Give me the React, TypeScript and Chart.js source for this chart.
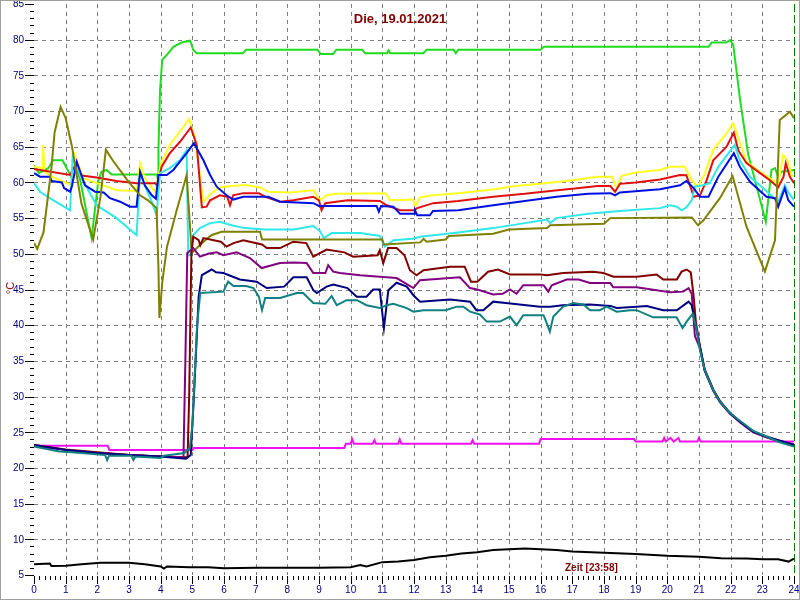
import React, { useEffect, useRef } from "react";
import { Chart, registerables } from "chart.js";

Chart.register(...registerables);

type P = [number, number];

const titleText = "Die, 19.01.2021";
const timeText = "Zeit [23:58]";
const unitText = "°C";
const xTickLabels = ["0","1","2","3","4","5","6","7","8","9","10","11","12","13","14","15","16","17","18","19","20","21","22","23","24"];
const yTickLabels = ["5","10","15","20","25","30","35","40","45","50","55","60","65","70","75","80","85"];

// [hour, °C]
const green: P[] = [
  [0, 62.4], [0.15, 61.3], [0.45, 62.0], [0.6, 63.1], [0.9, 63.1], [1.2, 60.6], [1.3, 62.5], [1.45, 60.5],
  [1.82, 52.2], [2.03, 60.2], [2.13, 61.5], [2.29, 61.75], [2.45, 61.1], [3.88, 61.1], [3.92, 60.3],
  [3.93, 64.6], [3.98, 72.9], [4.05, 77.2], [4.19, 77.85], [4.4, 79.0], [4.66, 79.6], [4.93, 79.85],
  [5.03, 78.55], [5.14, 78.1], [6.6, 78.1], [6.7, 78.6], [8.95, 78.6], [9.05, 78.0], [9.45, 78.0],
  [9.55, 78.6], [10.37, 78.6], [10.45, 78.1], [11.15, 78.1], [11.2, 78.5], [11.25, 78.1], [12.3, 78.1],
  [12.4, 78.6], [13.25, 78.6], [13.32, 78.1], [13.4, 78.6], [16.0, 78.6], [16.1, 79.0], [21.3, 79.0],
  [21.4, 79.6], [21.85, 79.6], [21.98, 79.95], [22.08, 79.3], [22.3, 71.5], [22.55, 64.0], [23.11, 54.5],
  [23.29, 61.75], [23.4, 62.0], [23.5, 60.8], [23.6, 61.5], [24, 61.75],
];

const yellow: P[] = [
  [0, 62.2], [0.27, 62.0], [0.29, 65.25], [0.33, 61.5], [0.56, 60.8], [1.19, 59.6], [1.29, 63.8], [1.56, 60.6],
  [1.98, 59.9], [2.61, 58.9], [3.24, 58.8], [3.35, 62.7], [3.5, 60.6], [3.82, 58.7], [4.03, 62.9], [4.29, 65.25],
  [4.9, 68.9], [5.08, 66.2], [5.35, 57.3], [5.6, 58.5], [5.87, 59.3], [6.24, 59.5], [6.7, 59.65], [7.14, 59.3],
  [7.39, 58.7], [8.1, 58.6], [8.82, 58.9], [9.03, 57.5], [9.24, 58.2], [9.55, 58.4], [11.1, 58.5], [11.24, 57.5],
  [11.97, 57.6], [12.03, 56.6], [12.19, 57.9], [12.6, 58.2], [13.4, 58.5], [14.5, 59.0], [15.2, 59.5],
  [16.0, 59.8], [17.0, 60.3], [17.8, 60.8], [18.25, 60.8], [18.4, 59.2], [18.55, 60.9], [19.0, 61.4],
  [19.77, 61.75], [20.09, 62.2], [20.55, 62.2], [20.77, 60.3], [20.97, 59.4], [21.19, 61.3], [21.44, 64.5],
  [21.87, 66.9], [22.08, 68.3], [22.23, 66.4], [22.5, 62.9], [22.93, 61.5], [23.34, 60.3], [23.5, 59.9],
  [23.66, 63.85], [23.82, 62.9], [23.92, 61.0], [24, 60.9],
];

const red: P[] = [
  [0, 61.9], [1.14, 61.05], [1.3, 62.4], [1.45, 61.0], [1.98, 60.7], [2.61, 60.2], [3.24, 59.9], [3.82, 59.9],
  [3.9, 59.6], [4.03, 62.2], [4.29, 64.1], [4.61, 65.7], [4.95, 67.7], [5.14, 65.25], [5.3, 56.5], [5.45, 56.6],
  [5.56, 57.5], [5.87, 58.2], [6.1, 58.0], [6.19, 56.8], [6.29, 58.2], [6.61, 58.5], [7.1, 58.5], [7.3, 58.0],
  [7.77, 57.3], [8.19, 57.5], [8.82, 58.0], [9.0, 57.5], [9.08, 56.1], [9.2, 57.1], [9.9, 57.5], [10.92, 57.4],
  [11.14, 56.8], [11.56, 56.1], [12.0, 56.1], [12.1, 56.4], [12.61, 57.1], [13.4, 57.4], [14.5, 58.0],
  [15.5, 58.4], [16.3, 58.8], [17.0, 59.1], [17.8, 59.5], [18.2, 59.5], [18.35, 58.7], [18.5, 59.8],
  [19.0, 60.0], [19.77, 60.4], [20.4, 61.05], [20.6, 61.0], [20.77, 58.9], [20.83, 58.0], [21.03, 58.2],
  [21.24, 60.3], [21.45, 63.1], [21.87, 65.0], [22.1, 67.0], [22.24, 64.5], [22.5, 62.7], [22.93, 61.3],
  [23.24, 60.3], [23.5, 59.3], [23.67, 60.8], [23.74, 62.7], [23.87, 60.8], [24, 59.9],
];

const blue: P[] = [
  [0, 61.3], [0.19, 60.8], [0.5, 60.8], [0.56, 60.2], [0.88, 60.0], [0.95, 59.2], [1.14, 58.7], [1.2, 59.5],
  [1.35, 62.9], [1.61, 59.6], [1.93, 58.7], [2.2, 58.6], [2.4, 57.8], [2.72, 57.3], [3.03, 56.6], [3.24, 56.6],
  [3.35, 61.5], [3.5, 59.6], [3.72, 58.2], [3.85, 57.7], [3.93, 61.05], [4.19, 61.05], [4.4, 61.75],
  [4.82, 64.1], [5.05, 65.5], [5.35, 63.1], [5.56, 61.05], [5.77, 59.4], [6.08, 58.2], [6.29, 57.6],
  [6.61, 58.0], [7.4, 58.0], [7.77, 57.3], [8.82, 57.1], [9.0, 56.7], [10.82, 56.7], [10.89, 55.9],
  [10.96, 56.7], [11.35, 56.6], [11.56, 55.6], [12.0, 55.6], [12.03, 56.1], [12.1, 55.4], [12.5, 55.4],
  [12.6, 56.0], [13.4, 56.1], [14.5, 56.8], [15.5, 57.4], [16.5, 58.0], [17.5, 58.4], [18.2, 58.5],
  [18.35, 58.2], [18.5, 58.6], [19.77, 59.04], [20.4, 59.6], [20.6, 60.2], [20.83, 59.2], [21.03, 58.0],
  [21.3, 58.0], [21.61, 60.8], [22.1, 64.1], [22.29, 62.2], [22.61, 60.1], [23.13, 58.0], [23.4, 57.8],
  [23.5, 56.6], [23.71, 59.2], [23.82, 57.5], [24, 56.6],
];

const cyan: P[] = [
  [0, 59.9], [0.19, 58.7], [0.5, 57.8], [1.14, 56.1], [1.22, 63.6], [1.45, 61.0], [1.98, 56.8], [2.61, 55.0],
  [3.24, 52.6], [3.35, 61.5], [3.5, 59.5], [3.72, 57.3], [3.87, 55.4], [3.98, 61.3], [4.29, 62.0], [4.61, 63.1],
  [4.82, 64.5], [4.87, 49.8], [4.95, 49.8], [5.0, 52.5], [5.24, 53.6], [5.56, 54.3], [5.87, 54.5], [6.24, 54.0],
  [6.66, 53.6], [7.3, 53.4], [8.2, 53.4], [8.82, 53.9], [9.03, 53.2], [9.15, 52.2], [9.4, 52.9], [10.3, 52.9],
  [10.92, 52.5], [11.08, 51.0], [11.35, 51.9], [11.97, 52.1], [12.19, 52.4], [13.4, 53.0], [14.5, 53.6],
  [15.5, 54.3], [16.2, 54.8], [16.3, 54.3], [16.5, 55.0], [17.5, 55.6], [18.5, 56.0], [19.77, 56.4],
  [20.09, 56.8], [20.3, 56.6], [20.45, 56.1], [20.6, 56.5], [20.77, 57.5], [20.87, 59.4], [21.13, 59.6],
  [21.34, 59.9], [21.61, 62.2], [22.13, 65.25], [22.29, 63.1], [22.61, 60.8], [23.03, 59.2], [23.5, 57.3],
  [23.71, 59.6], [23.82, 58.6], [24, 57.5],
];

const olive: P[] = [
  [0, 51.5], [0.1, 50.7], [0.3, 53], [0.55, 62], [0.65, 67], [0.84, 70.6], [1.0, 69], [1.2, 65], [1.5, 57],
  [1.87, 52], [2.1, 58], [2.27, 64.6], [2.5, 63], [3.0, 60], [3.35, 58.2], [3.6, 57.5], [3.87, 56.4],
  [3.93, 48], [3.96, 41], [4.05, 46], [4.2, 51], [4.5, 56], [4.82, 61], [4.88, 57], [4.98, 50.1], [5.3, 51.5],
  [5.6, 52.6], [5.92, 53.1], [7.14, 53.1], [7.2, 52.0], [11.0, 52.0], [11.05, 51.3], [12.2, 51.6], [12.3, 52.1],
  [12.4, 51.7], [13.0, 52.0], [13.1, 52.5], [14.5, 52.8], [15.0, 53.4], [16.2, 53.6], [16.3, 54.0], [18.0, 54.2],
  [18.2, 55.0], [20.77, 55.1], [20.97, 54.0], [21.14, 54.7], [21.66, 57.8], [22.06, 60.9], [22.5, 53.8],
  [23.08, 47.5], [23.4, 51.9], [23.55, 68.75], [23.87, 69.9], [24, 69.0],
];

const maroon: P[] = [
  [0, 23.2], [1.0, 22.6], [2.0, 22.2], [3.0, 21.8], [4.0, 21.6], [4.85, 21.5], [4.9, 30], [4.97, 50],
  [5.03, 52.4], [5.2, 51.9], [5.25, 51.2], [5.35, 52.2], [5.9, 51.7], [6.08, 51.0], [6.3, 51.5], [6.61, 51.9],
  [7.2, 51.3], [7.35, 50.8], [7.77, 50.8], [8.19, 51.7], [8.6, 51.5], [8.82, 49.6], [9.24, 50.6], [9.8, 50.2],
  [10.08, 49.6], [10.85, 49.8], [10.92, 50.5], [11.03, 48.7], [11.18, 50.8], [11.45, 50.8], [11.7, 49.8],
  [11.87, 47.7], [12.08, 47.0], [12.3, 47.7], [13.14, 48.2], [13.6, 48.2], [13.8, 46.1], [14.0, 46.1],
  [14.34, 47.5], [14.65, 47.8], [15.03, 47.1], [16.0, 47.1], [16.2, 47.0], [16.71, 47.3], [17.66, 47.5],
  [17.98, 47.3], [18.3, 46.8], [19.03, 46.8], [19.66, 47.1], [19.87, 46.4], [20.3, 46.4], [20.45, 47.5],
  [20.61, 47.8], [20.74, 47.4], [20.82, 44.5], [20.9, 40.5], [21.03, 37.0], [21.18, 33.8], [21.45, 31.0],
  [21.66, 29.4], [21.98, 27.7], [22.29, 26.5], [22.71, 25.1], [23.13, 24.3], [23.55, 23.7], [24, 23.2],
];

const purple: P[] = [
  [0, 23.1], [1, 22.5], [2, 22.1], [3, 21.8], [4, 21.6], [4.72, 21.5], [4.78, 35], [4.84, 50.1], [5.03, 50.8],
  [5.24, 49.6], [5.5, 50.0], [5.77, 50.2], [5.98, 49.8], [6.4, 50.2], [6.82, 49.4], [7.19, 48.0], [7.77, 48.7],
  [8.2, 48.8], [8.61, 48.7], [8.82, 47.3], [9.2, 47.3], [9.29, 48.4], [9.45, 47.5], [9.66, 47.3], [10.3, 47.0],
  [10.92, 46.8], [11.45, 46.6], [11.98, 45.2], [12.19, 46.3], [13.45, 46.7], [13.77, 45.2], [14.0, 45.0],
  [14.5, 44.3], [14.8, 44.4], [15.03, 45.0], [15.24, 44.4], [15.45, 45.6], [16.09, 45.6], [16.24, 44.7],
  [16.35, 45.6], [16.82, 46.4], [17.2, 46.4], [17.56, 45.9], [18.2, 45.9], [18.29, 45.3], [19.03, 45.3],
  [19.66, 44.9], [20.09, 44.6], [20.5, 44.7], [20.67, 45.2], [20.77, 44.4], [20.87, 38.5], [21.03, 36.8],
  [21.18, 33.6], [21.45, 30.8], [21.66, 29.2], [21.98, 27.6], [22.29, 26.4], [22.71, 25.0], [23.13, 24.3],
  [23.55, 23.8], [24, 23.3],
];

const navy: P[] = [
  [0, 23.2], [1, 22.5], [2, 22.1], [3, 21.8], [4, 21.6], [4.8, 21.3], [4.95, 21.8], [5.05, 30], [5.2, 44],
  [5.3, 47.0], [5.61, 47.8], [5.75, 47.4], [5.98, 47.3], [6.5, 46.4], [7.03, 46.1], [7.35, 45.2], [7.9, 45.4],
  [8.19, 46.7], [8.61, 46.7], [8.82, 44.9], [8.93, 44.5], [9.24, 45.4], [9.45, 45.7], [9.9, 45.2], [10.19, 44.0],
  [10.5, 44.0], [10.71, 45.0], [10.92, 45.0], [11.05, 39.6], [11.19, 44.9], [11.45, 45.95], [11.77, 45.4],
  [11.98, 44.2], [12.19, 43.3], [13.14, 43.6], [13.77, 43.3], [13.97, 42.1], [14.19, 42.1], [14.5, 43.3],
  [14.9, 43.1], [15.98, 42.6], [16.3, 42.6], [16.7, 42.8], [17.56, 42.9], [18.2, 42.7], [18.4, 42.4],
  [19.03, 42.6], [19.35, 42.7], [19.87, 42.1], [20.3, 42.1], [20.67, 43.3], [20.77, 42.8], [20.87, 40.5],
  [21.03, 37.0], [21.18, 33.7], [21.45, 30.9], [21.66, 29.3], [21.98, 27.65], [22.29, 26.5], [22.71, 25.1],
  [23.13, 24.4], [23.55, 23.8], [24, 23.2],
];

const teal: P[] = [
  [0, 23.0], [0.8, 22.3], [1.2, 22.2], [2.25, 21.8], [2.31, 21.1], [2.37, 21.7], [3.08, 21.7], [3.14, 21.1],
  [3.2, 21.6], [4.0, 21.4], [4.1, 21.7], [4.75, 22.1], [4.92, 22.8], [5.0, 26], [5.15, 40], [5.25, 44.5],
  [5.98, 44.7], [6.13, 46.1], [6.3, 45.5], [6.7, 45.5], [6.93, 45.2], [7.1, 44.0], [7.2, 42.1], [7.3, 43.8],
  [7.77, 43.8], [8.3, 44.5], [8.5, 44.5], [8.82, 43.1], [9.2, 43.0], [9.4, 44.1], [9.56, 42.8], [9.87, 43.5],
  [10.2, 43.5], [10.5, 42.8], [10.92, 42.4], [11.14, 42.8], [11.35, 43.0], [11.77, 42.4], [11.98, 41.9],
  [12.3, 42.1], [13.0, 42.1], [13.35, 42.6], [13.56, 42.6], [13.77, 41.9], [14.08, 41.5], [14.3, 40.5],
  [14.71, 40.5], [15.03, 41.2], [15.24, 40.0], [15.45, 41.4], [16.09, 41.4], [16.13, 41.0], [16.29, 39.1],
  [16.4, 41.2], [16.71, 42.6], [17.03, 43.1], [17.35, 42.9], [17.56, 42.1], [17.87, 42.1], [18.08, 42.6],
  [18.4, 41.9], [18.82, 42.1], [19.03, 42.1], [19.55, 41.1], [20.29, 41.1], [20.48, 39.6], [20.61, 40.5],
  [20.8, 41.6], [20.92, 39.5], [21.03, 36.5], [21.18, 33.7], [21.45, 30.9], [21.66, 29.3], [21.98, 27.7],
  [22.29, 26.6], [22.71, 25.2], [23.13, 24.4], [23.55, 23.6], [24, 23.0],
];

const magenta: P[] = [
  [0, 23.1], [2.33, 23.1], [2.38, 22.5], [5.0, 22.5], [5.05, 22.8], [9.8, 22.8], [9.85, 23.4], [10.0, 23.4],
  [10.05, 24.0], [10.1, 23.4], [10.7, 23.4], [10.75, 23.9], [10.8, 23.4], [11.5, 23.4], [11.55, 24.0],
  [11.6, 23.4], [13.8, 23.4], [13.85, 23.9], [13.9, 23.4], [15.95, 23.4], [16.0, 24.05], [18.95, 24.05],
  [19.0, 23.7], [19.85, 23.7], [19.9, 24.2], [19.95, 23.7], [20.1, 24.2], [20.2, 23.7], [20.35, 24.2],
  [20.4, 23.7], [20.95, 23.7], [21.0, 24.2], [21.05, 23.7], [24, 23.7],
];

const black: P[] = [
  [0, 6.5], [0.5, 6.6], [0.55, 6.25], [1.0, 6.3], [1.5, 6.5], [2.1, 6.7], [3.0, 6.7], [3.5, 6.5], [4.0, 6.2],
  [4.1, 5.9], [4.2, 6.2], [4.9, 6.1], [5.5, 6.1], [6, 5.95], [7, 6.0], [8, 6.0], [9, 6.0], [10, 6.1],
  [10.3, 6.4], [10.5, 6.2], [11.0, 6.8], [11.5, 6.9], [12.0, 7.1], [12.5, 7.5], [13.0, 7.7], [13.5, 8.0],
  [14.0, 8.2], [14.5, 8.5], [15.0, 8.6], [15.5, 8.7], [16.0, 8.6], [16.5, 8.5], [17.0, 8.3], [18.0, 8.13],
  [19.0, 7.95], [20.0, 7.7], [21.0, 7.56], [21.7, 7.33], [22.5, 7.3], [23.0, 7.2], [23.5, 7.2], [23.83, 6.88],
  [24, 7.3],
];

// first entry is painted on top
const seriesList: { name: string; color: string; points: P[] }[] = [
  { name: "teal", color: "#108080", points: teal },
  { name: "navy", color: "#000080", points: navy },
  { name: "purple", color: "#800080", points: purple },
  { name: "maroon", color: "#800000", points: maroon },
  { name: "black", color: "#000000", points: black },
  { name: "magenta", color: "#f010f0", points: magenta },
  { name: "olive", color: "#808000", points: olive },
  { name: "blue", color: "#0010e0", points: blue },
  { name: "cyan", color: "#30e8e8", points: cyan },
  { name: "red", color: "#e01010", points: red },
  { name: "yellow", color: "#ffff20", points: yellow },
  { name: "green", color: "#20dc20", points: green },
];

const decor = {
  id: "decor",
  beforeDatasetsDraw(chart: any) {
    const { ctx, chartArea: a, scales } = chart;
    const x = scales.x, y = scales.y;
    ctx.save();
    ctx.strokeStyle = "#808080";
    ctx.lineWidth = 1;
    ctx.setLineDash([4, 4]);
    yTickLabels.forEach((t) => {
      const v = Number(t);
      if (v <= 5 || v >= 85) return;
      const py = Math.round(y.getPixelForValue(v)) + 0.5;
      ctx.beginPath();
      ctx.moveTo(a.left, py);
      ctx.lineTo(a.right, py);
      ctx.stroke();
    });
    xTickLabels.forEach((t) => {
      const h = Number(t);
      if (h <= 0 || h >= 24) return;
      const px = Math.round(x.getPixelForValue(h)) + 0.5;
      ctx.beginPath();
      ctx.moveTo(px, a.top);
      ctx.lineTo(px, a.bottom);
      ctx.stroke();
    });
    ctx.restore();
  },
  afterDatasetsDraw(chart: any) {
    const { ctx, chartArea: a, scales } = chart;
    const x = scales.x, y = scales.y;
    ctx.save();
    // end-of-day marker
    ctx.strokeStyle = "#008000";
    ctx.lineWidth = 1;
    ctx.setLineDash([8, 3]);
    const px24 = Math.round(x.getPixelForValue(24)) + 0.5;
    ctx.beginPath();
    ctx.moveTo(px24, a.top);
    ctx.lineTo(px24, a.bottom);
    ctx.stroke();
    ctx.setLineDash([]);

    // y ticks
    ctx.strokeStyle = "#000000";
    for (let v = 5; v <= 85; v += 1) {
      const py = Math.round(y.getPixelForValue(v)) + 0.5;
      const major = v % 5 === 0;
      ctx.beginPath();
      ctx.moveTo(major ? a.left - 9 : a.left - 4, py);
      ctx.lineTo(a.left, py);
      ctx.stroke();
    }
    // x ticks
    for (let m = 0; m <= 24 * 6; m += 1) {
      const px = Math.round(x.getPixelForValue(m / 6)) + 0.5;
      const major = m % 6 === 0;
      ctx.beginPath();
      ctx.moveTo(px, a.bottom + 1);
      ctx.lineTo(px, a.bottom + (major ? 9 : 5));
      ctx.stroke();
    }
    // tick labels
    ctx.fillStyle = "#000080";
    ctx.font = "10px 'Liberation Sans', Arial, sans-serif";
    ctx.textAlign = "right";
    ctx.textBaseline = "middle";
    yTickLabels.forEach((t) => {
      ctx.fillText(t, a.left - 10, y.getPixelForValue(Number(t)) + 0.5);
    });
    ctx.textAlign = "center";
    xTickLabels.forEach((t) => {
      const px = x.getPixelForValue(Number(t));
      ctx.fillText(t, Math.min(px, 794), a.bottom + 15);
    });

    // title and labels
    ctx.fillStyle = "#800000";
    ctx.font = "bold 13px 'Liberation Sans', Arial, sans-serif";
    ctx.textAlign = "center";
    ctx.textBaseline = "alphabetic";
    ctx.fillText(titleText, 400, 23);
    ctx.font = "bold 10px 'Liberation Sans', Arial, sans-serif";
    ctx.textAlign = "left";
    ctx.fillText(timeText, 565, 571);
    ctx.font = "11px 'Liberation Sans', Arial, sans-serif";
    ctx.save();
    ctx.translate(14, 288);
    ctx.rotate(-Math.PI / 2);
    ctx.textAlign = "center";
    ctx.fillText(unitText, 0, 0);
    ctx.restore();

    // frame
    ctx.strokeStyle = "#a0a0a0";
    ctx.strokeRect(0.5, 0.5, 799, 599);
    ctx.restore();
  },
};

export default function App() {
  const ref = useRef<HTMLCanvasElement | null>(null);
  useEffect(() => {
    document.body.style.margin = "0";
    const canvas = ref.current;
    if (!canvas) return;
    const chart = new Chart(canvas, {
      type: "line",
      data: {
        datasets: seriesList.map((s) => ({
          label: s.name,
          data: s.points.map(([h, v]) => ({ x: h, y: v })),
          borderColor: s.color,
          backgroundColor: s.color,
          borderWidth: 2,
          pointRadius: 0,
          tension: 0,
          fill: false,
        })),
      },
      options: {
        animation: false,
        responsive: false,
        devicePixelRatio: 1,
        events: [],
        layout: { padding: { left: 34, right: 6, top: 4, bottom: 25 } },
        plugins: { legend: { display: false }, tooltip: { enabled: false }, title: { display: false } },
        scales: {
          x: { type: "linear", min: 0, max: 24, display: false },
          y: { type: "linear", min: 5, max: 85, display: false },
        },
      },
      plugins: [decor],
    } as any);
    return () => chart.destroy();
  }, []);
  return <canvas ref={ref} width={800} height={600} style={{ display: "block", background: "#ffffff" }} />;
}
